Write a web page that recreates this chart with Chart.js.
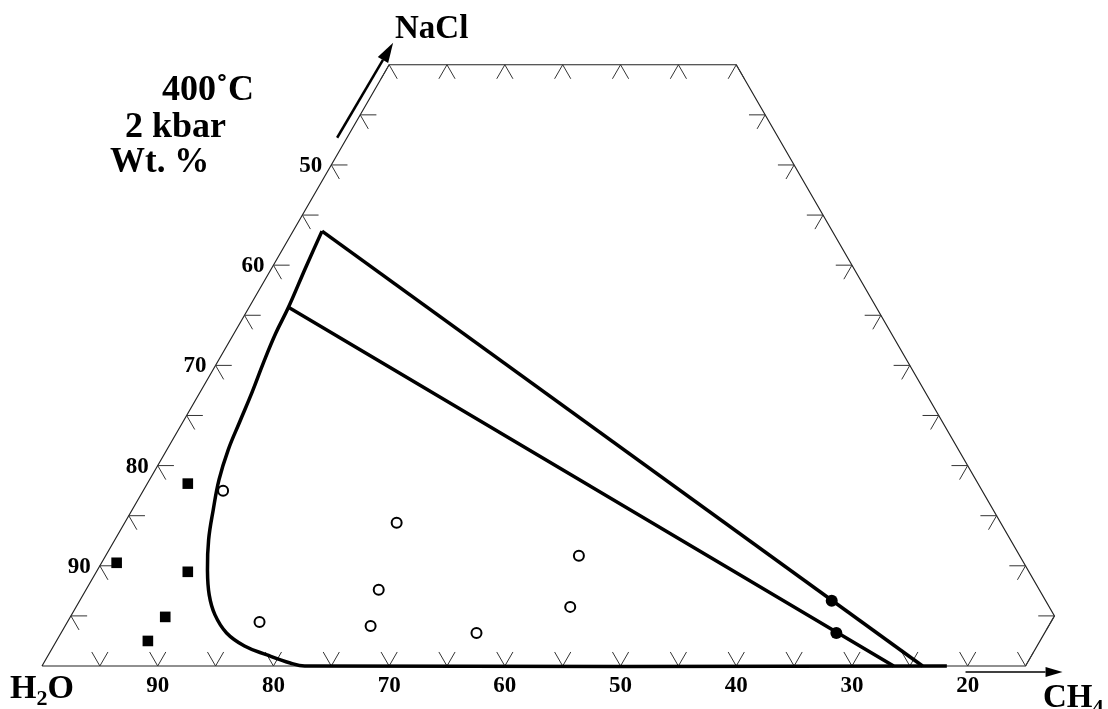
<!DOCTYPE html>
<html>
<head>
<meta charset="utf-8">
<title>H2O-NaCl-CH4, 400°C, 2 kbar</title>
<script src="https://cdn.jsdelivr.net/npm/chart.js@4.4.1/dist/chart.umd.min.js"></script>
<style>
  html, body { margin: 0; padding: 0; background: #fff; }
  #wrap { width: 1108px; height: 709px; }
</style>
</head>
<body>
<div id="wrap"><canvas id="myChart" width="1108" height="709"></canvas></div>
<script>
// all compositions in wt%, H2O is whatever is left
const bottomTicks = [90, 80, 70, 60, 50, 40, 30, 20];
const leftTicks = [90, 80, 70, 60, 50];

// solvus (thick curve) - NaCl and CH4
const solvusNaCl = [43.4, 39.8, 35.8, 33.2, 30.3, 27.3, 24.4, 21.6, 18.6, 15.6, 12.6, 9.6, 7.1, 5.1, 3.3, 2.0, 1.1, 0.3, 0, 0];
const solvusCH4  = [2.5, 2.9, 3.4, 3.6, 4.0, 4.5, 4.9, 5.3, 6.0, 7.0, 8.1, 9.5, 10.9, 12.4, 14.3, 16.5, 18.9, 21.3, 22.7, 78.2];

// tie lines
const tieUpperNaCl = [43.4, 0];
const tieUpperCH4  = [2.5, 76.1];
const tieLowerNaCl = [35.8, 0];
const tieLowerCH4  = [3.4, 73.6];
const tieDotNaCl = [6.5, 3.3];
const tieDotCH4  = [65.0, 67.0];

// inclusions
const vapourNaCl = [17.5, 14.3, 11.0, 7.6, 5.9, 4.4, 4.0, 3.3];
const vapourCH4  = [6.9, 23.5, 40.9, 25.3, 42.7, 16.6, 26.4, 35.9];
const brineNaCl = [18.2, 10.3, 9.4, 4.9, 2.5];
const brineCH4  = [3.5, 1.3, 7.9, 8.2, 7.9];

// limits of the plotted part of the triangle
const maxNaCl = 60, minH2O = 10, maxCH4 = 85, tickStep = 5;

const SQ3 = Math.sqrt(3) / 2;
function tern(nacl, ch4) {
    return { x: ch4 + nacl / 2, y: nacl * SQ3 };
}
function pts(nacl, ch4) {
    return nacl.map((n, i) => tern(n, ch4[i]));
}

// outline
const frame = [
    tern(0, 0),
    tern(maxNaCl, 0),
    tern(maxNaCl, 100 - minH2O - maxNaCl),
    tern(100 - minH2O - maxCH4, maxCH4),
    tern(0, maxCH4),
    tern(0, 0)
];

// little grid-direction ticks on every side
const TL = 1.4;
const tickSegs = [];
function addTick(p, dirs) {
    dirs.forEach(d => {
        tickSegs.push({ x: p.x, y: p.y });
        tickSegs.push({ x: p.x + d[0] * TL, y: p.y + d[1] * TL });
        tickSegs.push({ x: null, y: null });
    });
}
for (let c = tickStep; c <= maxCH4; c += tickStep) addTick(tern(0, c), [[0.5, SQ3], [-0.5, SQ3]]);
for (let n = tickStep; n < maxNaCl; n += tickStep) {
    addTick(tern(n, 0), [[1, 0], [0.5, -SQ3]]);
    addTick(tern(n, 100 - minH2O - n), [[-1, 0], [-0.5, -SQ3]]);
}
for (let c = 0; c <= 100 - minH2O - maxNaCl; c += tickStep) addTick(tern(maxNaCl, c), [[-0.5, -SQ3], [0.5, -SQ3]]);

// 11.571 px per wt%, H2O corner at (42, 666)
const PX = 11.571, OX = 42, OY = 666;

const FONT = '"Liberation Serif", "Times New Roman", serif';

function formula(ctx, parts, x, y, size) {
    parts.forEach(p => {
        const sub = p[1];
        ctx.font = 'bold ' + (sub ? Math.round(size * 0.66) : size) + 'px ' + FONT;
        ctx.fillText(p[0], x, y + (sub ? size * 0.22 : 0));
        x += ctx.measureText(p[0]).width;
    });
}

function arrow(ctx, x1, y1, x2, y2, head, half) {
    const a = Math.atan2(y2 - y1, x2 - x1);
    const bx = x2 - Math.cos(a) * head, by = y2 - Math.sin(a) * head;
    ctx.beginPath();
    ctx.moveTo(x1, y1);
    ctx.lineTo(bx, by);
    ctx.stroke();
    ctx.beginPath();
    ctx.moveTo(x2, y2);
    ctx.lineTo(bx - Math.sin(a) * half, by + Math.cos(a) * half);
    ctx.lineTo(bx + Math.sin(a) * half, by - Math.cos(a) * half);
    ctx.closePath();
    ctx.fill();
}

const labels = {
    id: 'labels',
    afterDatasetsDraw(chart) {
        const { ctx, scales: { x, y } } = chart;
        const px = p => [x.getPixelForValue(p.x), y.getPixelForValue(p.y)];
        ctx.save();
        ctx.fillStyle = '#000';
        ctx.strokeStyle = '#000';

        // tick labels
        ctx.font = 'bold 23px ' + FONT;
        ctx.textAlign = 'center';
        ctx.textBaseline = 'alphabetic';
        bottomTicks.forEach(v => {
            const [a, b] = px(tern(0, 100 - v));
            ctx.fillText(String(v), a, b + 26);
        });
        ctx.textAlign = 'right';
        ctx.textBaseline = 'middle';
        leftTicks.forEach(v => {
            const [a, b] = px(tern(100 - v, 0));
            ctx.fillText(String(v), a - 9, b + 1);
        });

        // conditions
        ctx.textAlign = 'left';
        ctx.textBaseline = 'alphabetic';
        ctx.font = 'bold 36px ' + FONT;
        ctx.fillText('400˚C', 162, 100);
        ctx.fillText('2 kbar', 125, 137);
        ctx.font = 'bold 35px ' + FONT;
        ctx.fillText('Wt. %', 110, 172);

        // components + arrows
        formula(ctx, [['NaCl', 0]], 395, 38, 33);
        formula(ctx, [['H', 0], ['2', 1], ['O', 0]], 10, 698, 34);
        formula(ctx, [['CH', 0], ['4', 1]], 1043, 707, 33);

        ctx.lineWidth = 2.5;
        const [tx, ty] = px(tern(maxNaCl, 0));
        arrow(ctx, tx - 52, ty + 73, tx + 4, ty - 22, 20, 6);
        const [cx, cy] = px(tern(0, maxCH4));
        ctx.lineWidth = 1.5;
        arrow(ctx, cx - 60, cy + 6, cx + 37, cy + 6, 17, 5);
        ctx.restore();
    }
};

var ctx = document.getElementById('myChart').getContext('2d');
var chart = new Chart(ctx, {
    type: 'scatter',
    data: {
        datasets: [{
            // filled dots on the tie lines
            data: pts(tieDotNaCl, tieDotCH4),
            pointRadius: 6,
            backgroundColor: '#000',
            borderColor: '#000',
            borderWidth: 0
        }, {
            // open circles
            data: pts(vapourNaCl, vapourCH4),
            pointRadius: 5,
            backgroundColor: '#fff',
            borderColor: '#000',
            borderWidth: 2
        }, {
            // filled squares
            data: pts(brineNaCl, brineCH4),
            pointStyle: 'rect',
            pointRadius: 7.5,
            backgroundColor: '#000',
            borderColor: '#000',
            borderWidth: 0
        }, {
            data: pts(tieUpperNaCl, tieUpperCH4),
            showLine: true,
            pointRadius: 0,
            borderColor: '#000',
            borderWidth: 3.5
        }, {
            data: pts(tieLowerNaCl, tieLowerCH4),
            showLine: true,
            pointRadius: 0,
            borderColor: '#000',
            borderWidth: 3.5
        }, {
            data: pts(solvusNaCl, solvusCH4),
            showLine: true,
            pointRadius: 0,
            borderColor: '#000',
            borderWidth: 3.5,
            tension: 0.4
        }, {
            data: tickSegs,
            showLine: true,
            spanGaps: false,
            pointRadius: 0,
            borderColor: '#333',
            borderWidth: 1
        }, {
            data: frame,
            showLine: true,
            pointRadius: 0,
            borderColor: '#222',
            borderWidth: 1.2
        }]
    },
    options: {
        responsive: false,
        animation: false,
        events: [],
        layout: { padding: 0, autoPadding: false },
        plugins: {
            legend: { display: false },
            tooltip: { enabled: false }
        },
        scales: {
            x: { type: 'linear', display: false, min: -OX / PX, max: (1108 - OX) / PX },
            y: { type: 'linear', display: false, min: -(709 - OY) / PX, max: OY / PX }
        }
    },
    plugins: [labels]
});
</script>
</body>
</html>
